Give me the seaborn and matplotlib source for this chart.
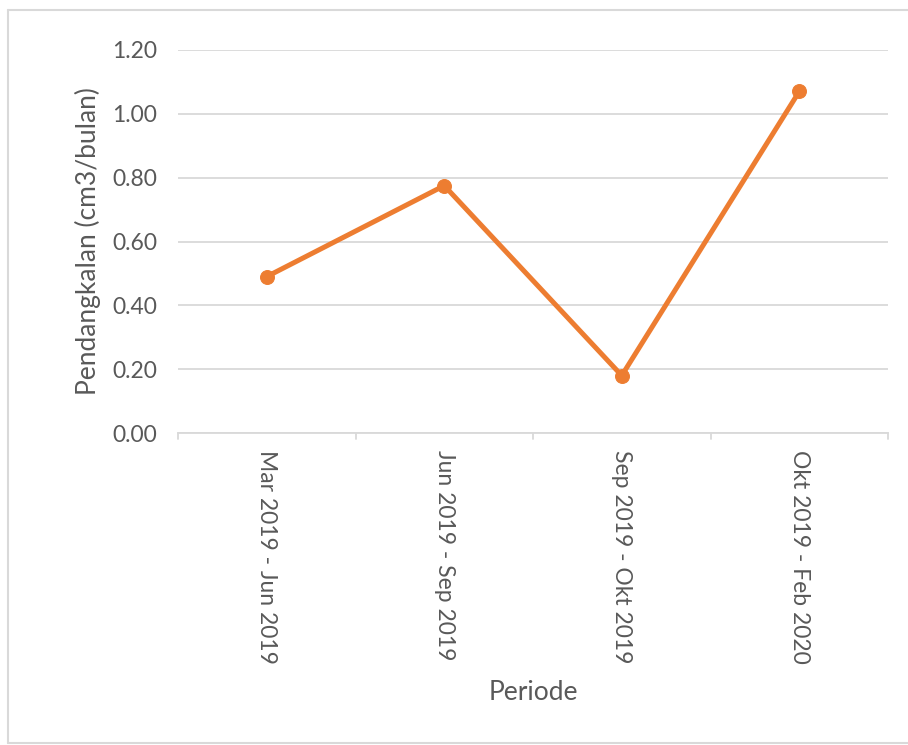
import matplotlib
matplotlib.use("Agg")
import matplotlib.pyplot as plt
from matplotlib.lines import Line2D
import seaborn as sns
import pandas as pd

# Sedimentation rate per observation period
periods = ["Mar 2019 - Jun 2019", "Jun 2019 - Sep 2019",
           "Sep 2019 - Okt 2019", "Okt 2019 - Feb 2020"]
pendangkalan = [0.49, 0.775, 0.18, 1.07]
y_ticks = [0.0, 0.2, 0.4, 0.6, 0.8, 1.0, 1.2]

df = pd.DataFrame({"Periode": periods, "Pendangkalan": pendangkalan})
df["pos"] = range(len(periods))

sns.set_theme(style="white")
plt.rcParams["font.family"] = ["Lato", "DejaVu Sans"]

text_color = "#595959"
grid_color = "#d9d9d9"
orange = "#ED7D31"

fig = plt.figure(figsize=(9.08, 7.45), dpi=100)
ax = fig.add_axes([178 / 908, 1 - 433 / 745, (888 - 178) / 908, (433 - 50) / 745])

sns.lineplot(data=df, x="pos", y="Pendangkalan", ax=ax, color=orange,
             linewidth=3.6, marker="o", markersize=10,
             markeredgecolor=orange, markerfacecolor=orange, zorder=3)

ax.set_xlim(-0.5, len(periods) - 0.5)
ax.set_ylim(0, 1.2)
ax.set_yticks(y_ticks)
ax.set_yticklabels([f"{v:.2f}" for v in y_ticks], color=text_color, fontsize=16.5)
ax.set_xticks(df["pos"])
ax.set_xticklabels(periods, rotation=270, color=text_color, fontsize=16.5,
                   va="top", ha="center")

# Gridlines only on y
ax.yaxis.grid(True, color=grid_color, linewidth=1.3)
ax.xaxis.grid(False)
for side in ["left", "right", "top"]:
    ax.spines[side].set_visible(False)
ax.spines["bottom"].set_color(grid_color)
ax.spines["bottom"].set_linewidth(1.3)
ax.set_axisbelow(True)

# Category boundary ticks on the x axis
ax.tick_params(axis="x", length=0, pad=12)
ax.tick_params(axis="y", length=0, pad=15)
for b in [i - 0.5 for i in range(len(periods) + 1)]:
    ax.plot([b, b], [0, -0.018], color=grid_color, linewidth=1.3,
            clip_on=False, transform=ax.transData)

ax.set_xlabel("Periode", color=text_color, fontsize=19, labelpad=12)
ax.set_ylabel("Pendangkalan (cm3/bulan)", color=text_color, fontsize=19, labelpad=8)

# Chart area border
W, H = 908, 745
for xs, ys in [((8 / W, 8 / W), (1 - 10 / H, 1 - 743 / H)),
               ((8 / W, 1.0), (1 - 10 / H, 1 - 10 / H)),
               ((8 / W, 1.0), (1 - 743 / H, 1 - 743 / H))]:
    fig.add_artist(Line2D(xs, ys, transform=fig.transFigure,
                          color="#d9d9d9", linewidth=1.5))

fig.savefig("out.png", dpi=100, facecolor="white")
